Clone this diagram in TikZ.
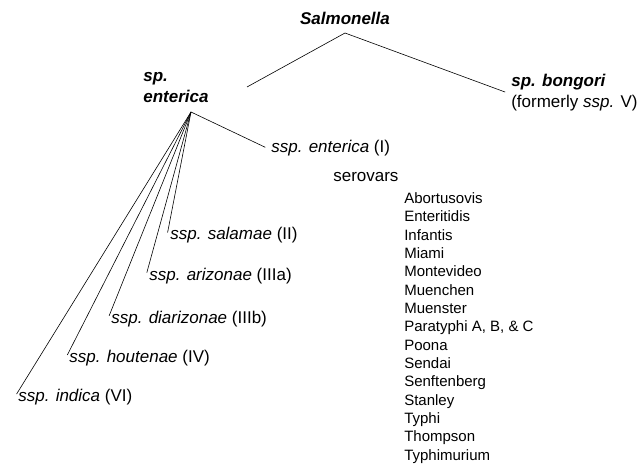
\documentclass[tikz,border=0pt]{standalone}
\usepackage{fontspec}
\setmainfont{Liberation Sans}
\begin{document}
\begin{tikzpicture}[x=1pt,y=-1pt,line width=.6pt,
		lbl/.style={anchor=base west,inner sep=3pt,font=\fontsize{17}{21}\selectfont},
		taxon/.style={lbl,font=\fontsize{17}{21}\selectfont\bfseries\itshape},
		branch/.style={shorten >=3pt}]
			\useasboundingbox (0,0) rectangle (640,465);
			\node[taxon,anchor=base] (salm) at (345,25) {Salmonella};
			\coordinate (top) at (345,33);
			%
			\node[taxon,align=left] (spent) at (140,103) {sp.\\enterica};
			\node[lbl,align=left] (bong) at (508,108) {\textbf{\textit{sp. bongori}}\\(formerly \textit{ssp.} V)};
			\coordinate (spjoin) at (247,87);
			\draw (top) -- (spjoin);
			\draw[branch] (top) -- (bong.west);
			%
			\coordinate (fork) at (191,112);
			\node[lbl] (sspI) at (268,153) {\textit{ssp. enterica} (I)};
			\node[lbl] (sal) at (167,240) {\textit{ssp. salamae} (II)};
			\node[lbl] (ari) at (146,280) {\textit{ssp. arizonae} (IIIa)};
			\node[lbl] (diar) at (108,323) {\textit{ssp. diarizonae} (IIIb)};
			\node[lbl] (hout) at (66,362) {\textit{ssp. houtenae} (IV)};
			\node[lbl] (ind) at (15,401) {\textit{ssp. indica} (VI)};
			\draw[branch] (fork) -- (sspI.west);
			\draw[branch] (fork) -- (sal.west);
			\draw[branch] (fork) -- (ari.west);
			\draw[branch] (fork) -- (diar.west);
			\draw[branch] (fork) -- (hout.west);
			\draw[branch] (fork) -- (ind.west);
			%
			\node[lbl] (sero) at (330,182) {serovars};
			\node[lbl,align=left,font=\fontsize{15}{18.35}\selectfont] (serolist) at (401,460.3)
				{Abortusovis\\Enteritidis\\Infantis\\Miami\\Montevideo\\Muenchen\\Muenster\\
				Paratyphi A, B, \& C\\Poona\\Sendai\\Senftenberg\\Stanley\\Typhi\\Thompson\\Typhimurium};
		\end{tikzpicture}
\end{document}
